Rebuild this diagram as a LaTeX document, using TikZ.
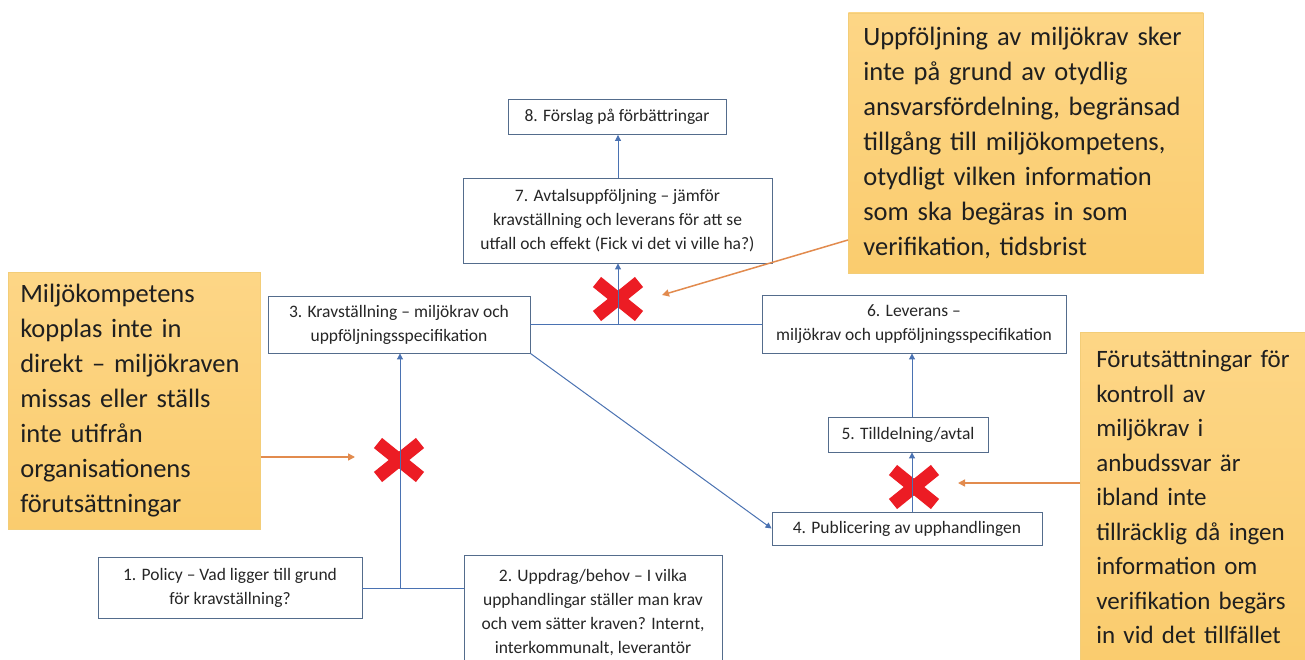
\documentclass[tikz,border=0pt]{standalone}
\usepackage{fontspec}
\setmainfont{Carlito}
\usetikzlibrary{arrows.meta}
\definecolor{boxline}{RGB}{84,108,140}
\definecolor{connc}{RGB}{74,114,178}
\definecolor{xred}{RGB}{236,28,36}
\definecolor{orng}{RGB}{226,139,78}
\definecolor{calltop}{RGB}{253,214,134}
\definecolor{callbot}{RGB}{250,204,110}
\definecolor{callline}{RGB}{243,205,120}
\definecolor{txt}{RGB}{38,38,38}
\tikzset{
 stepbox/.style={draw=boxline, line width=0.9pt, fill=white, align=center, text=txt, font=\fontsize{17.5}{24}\selectfont, inner sep=0pt},
 callout/.style={draw=callline, line width=0.6pt, top color=calltop, bottom color=callbot, align=left, text=black!88, inner ysep=0pt, anchor=west},
 conn/.style={draw=connc, line width=1pt},
 arr/.style={conn, -{Triangle[width=6pt,length=6pt]}},
 oarr/.style={draw=orng, line width=1.5pt, -{Triangle[width=7pt,length=7pt]}},
 xstroke/.style={draw=xred, line width=13pt},
}
\begin{document}
\begin{tikzpicture}[x=1pt,y=-1pt]
\useasboundingbox (0,0) rectangle (1305,660);
\fill[white] (0,0) rectangle (1305,660);

% callouts
\node[callout, inner xsep=12pt, text width=228pt, minimum height=257pt, font=\fontsize{26.5}{35}\selectfont] (cl) at (8,401)
 {Miljökompetens\\kopplas inte in\\direkt – miljökraven\\missas eller ställs\\inte utifrån\\organisationens\\förutsättningar};
\node[callout, inner xsep=15pt, text width=325pt, minimum height=260pt, font=\fontsize{26.5}{35}\selectfont] (ct) at (848,143)
 {Uppföljning av miljökrav sker\\inte på grund av otydlig\\ansvarsfördelning, begränsad\\tillgång till miljökompetens,\\otydligt vilken information\\som ska begäras in som\\verifikation, tidsbrist};
\node[callout, inner xsep=16pt, text width=205pt, minimum height=330pt, font=\fontsize{25}{34.5}\selectfont] (cr) at (1080,497)
 {Förutsättningar för\\kontroll av\\miljökrav i\\anbudssvar är\\ibland inte\\tillräcklig då ingen\\information om\\verifikation begärs\\in vid det tillfället};

% step boxes
\node[stepbox, minimum width=218pt, minimum height=35pt] (b8) at (617,117) {8. Förslag på förbättringar};
\node[stepbox, minimum width=309pt, minimum height=85pt] (b7) at (617.5,220.5) {7. Avtalsuppföljning – jämför\\kravställning och leverans för att se\\utfall och effekt (Fick vi det vi ville ha?)};
\node[stepbox, minimum width=262pt, minimum height=57pt] (b3) at (399,324.5) {3. Kravställning – miljökrav och\\uppföljningsspecifikation};
\node[stepbox, minimum width=304pt, minimum height=58pt] (b6) at (914,324) {6. Leverans –\\miljökrav och uppföljningsspecifikation};
\node[stepbox, minimum width=160pt, minimum height=35pt] (b5) at (908,434.5) {5. Tilldelning/avtal};
\node[stepbox, minimum width=270pt, minimum height=33pt] (b4) at (907,528.5) {4. Publicering av upphandlingen};
\node[stepbox, minimum width=264pt, minimum height=61pt] (b1) at (230,588) {1. Policy – Vad ligger till grund\\för kravställning?};
\node[stepbox, minimum width=258pt, minimum height=116pt] (b2) at (593,613) {2. Uppdrag/behov – I vilka\\upphandlingar ställer man krav\\och vem sätter kraven? Internt,\\interkommunalt, leverantör};

% red crosses
\coordinate (x1) at (399,460);
\coordinate (x2) at (618,299);
\coordinate (x3) at (914,487);
\foreach \c in {x1,x2,x3}{
  \draw[xstroke, shift={(\c)}] (-21,-17) -- (21,17);
  \draw[xstroke, shift={(\c)}] (-21,17) -- (21,-17);
}

% connectors
\coordinate (j1) at (400,588);
\coordinate (j2) at (618,324.5);
\coordinate (j3) at (912,0);
\draw[conn] (b1.east) -- (b1.east -| b2.west);
\draw[arr] (j1) -- (j1 |- b3.south);
\draw[arr] (b3.south east) -- (b4.west);
\draw[conn] (b3.east) -- (b3.east -| b6.west);
\draw[arr] (j2) -- (j2 |- b7.south);
\draw[arr] (j2 |- b7.north) -- (j2 |- b8.south);
\draw[arr] (j3 |- b4.north) -- (j3 |- b5.south);
\draw[arr] (j3 |- b5.north) -- (j3 |- b6.south);

% orange arrows
\coordinate (t1) at (355,457);
\coordinate (s2) at (848,240);
\coordinate (t2) at (662,295);
\coordinate (t3) at (958,483);
\draw[oarr] (t1 -| cl.east) -- (t1);
\draw[oarr] (s2) -- (t2);
\draw[oarr] (t3 -| cr.west) -- (t3);
\end{tikzpicture}
\end{document}
